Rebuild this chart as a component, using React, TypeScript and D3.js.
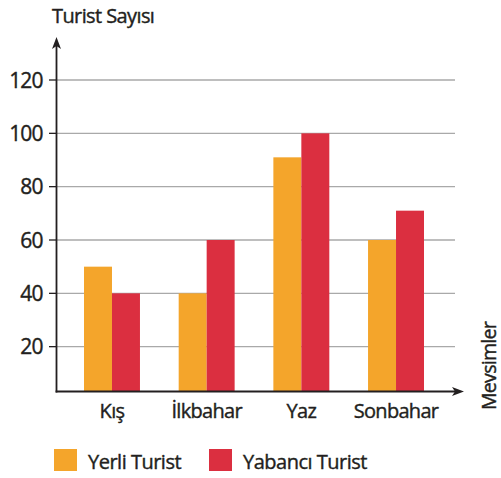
import React from "react";
import * as d3 from "d3";

const categories = ["Kış", "İlkbahar", "Yaz", "Sonbahar"];
const series = ["Yerli Turist", "Yabancı Turist"];
const yerli = [50, 40, 91, 60];
const yabanci = [40, 60, 100, 71];
const yTicks = [20, 40, 60, 80, 100, 120];
const colors = ["#F4A52B", "#DB2F40"];

const W = 501;
const H = 478;
const FONT = "'Open Sans', 'Noto Sans', sans-serif";
const TXT = "#231f20";
const textStyle = { fontFamily: FONT, fill: TXT, stroke: TXT, strokeWidth: 0.4 } as const;

export default function App() {
  const axisX = 56.5;
  const axisY = 391.5;
  const y = d3.scaleLinear().domain([0, 120]).range([400, 80]);
  const x = d3.scaleBand().domain(categories).range([55.6, 452.4]).paddingInner(0.409).paddingOuter(0.3);
  const sub = d3.scaleBand().domain(series).range([0, x.bandwidth()]);
  const data = [yerli, yabanci];

  return (
    <svg width={W} height={H} style={{ position: "absolute", left: 0, top: 0 }}>
      <rect width={W} height={H} fill="#fff" />
      {yTicks.map((t) => (
        <g key={t}>
          <line x1={axisX} x2={455} y1={y(t)} y2={y(t)} stroke="#a9a9a9" strokeWidth={1.3} />
          <line x1={49} x2={axisX} y1={y(t)} y2={y(t)} stroke={TXT} strokeWidth={1.3} />
          <text x={42.5} y={y(t)} dy="0.36em" textAnchor="end" fontSize={21} letterSpacing={-0.9} style={textStyle}>
            {t}
          </text>
        </g>
      ))}
      {categories.map((c, i) => (
        <g key={c}>
          {series.map((s, j) => (
            <rect
              key={s}
              x={(x(c) as number) + (sub(s) as number)}
              width={sub.bandwidth()}
              y={y(data[j][i])}
              height={axisY - y(data[j][i])}
              fill={colors[j]}
            />
          ))}
          <text x={(x(c) as number) + x.bandwidth() / 2} y={418} textAnchor="middle" fontSize={20} letterSpacing={-0.7} style={textStyle}>
            {c}
          </text>
        </g>
      ))}
      <line x1={axisX} x2={axisX} y1={axisY + 1} y2={45} stroke={TXT} strokeWidth={1.8} />
      <path d={`M${axisX},37 L${axisX - 4.5},49 L${axisX},46 L${axisX + 4.5},49 Z`} fill={TXT} />
      <line x1={axisX - 0.9} x2={456} y1={axisY} y2={axisY} stroke={TXT} strokeWidth={1.8} />
      <path d={`M464,${axisY} L452,${axisY - 4.5} L455,${axisY} L452,${axisY + 4.5} Z`} fill={TXT} />
      <text x={52} y={23} fontSize={20} letterSpacing={-0.6} style={textStyle}>
        Turist Sayısı
      </text>
      <text transform="translate(496,410) rotate(-90)" fontSize={19.5} letterSpacing={-0.7} style={textStyle}>
        Mevsimler
      </text>
      {series.map((s, j) => {
        const lx = [54, 209][j];
        return (
          <g key={s}>
            <rect x={lx} y={449} width={23} height={22} fill={colors[j]} />
            <text x={lx + 34} y={469} fontSize={20} letterSpacing={-0.5} style={textStyle}>
              {s}
            </text>
          </g>
        );
      })}
    </svg>
  );
}
